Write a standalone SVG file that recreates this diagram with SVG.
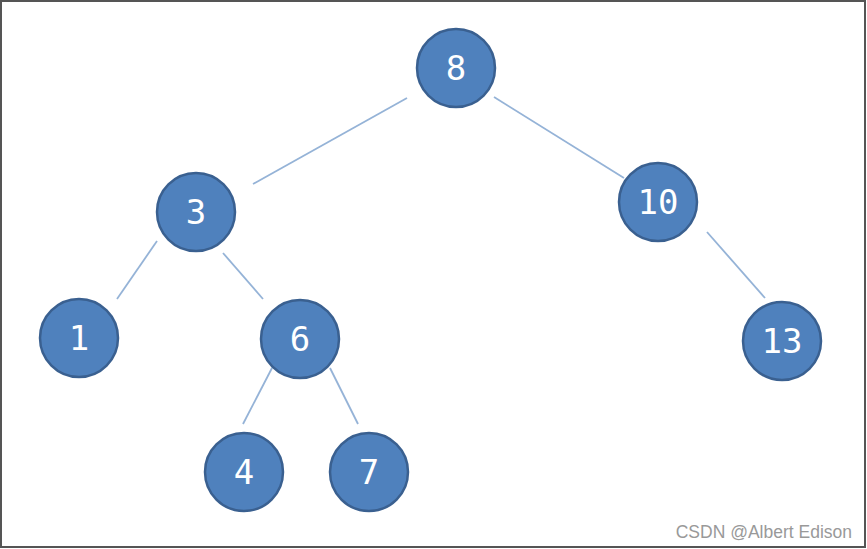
<svg xmlns="http://www.w3.org/2000/svg" width="867" height="549" viewBox="0 0 867 549">
<style>
.n circle{fill:#4F81BD;stroke:#3A6090;stroke-width:2.5}
.n text{fill:#fff;font-family:"DejaVu Sans Mono",monospace;font-size:34px;text-anchor:middle;dominant-baseline:central}
#edges line{stroke:#95B3D7;stroke-width:1.8}
</style>
<rect x="1" y="1" width="864" height="546" fill="#fff" stroke="#555" stroke-width="2"/>
<g id="edges">
<line x1="407" y1="98" x2="253" y2="184"/>
<line x1="494" y1="97" x2="624" y2="178"/>
<line x1="157" y1="241" x2="117" y2="299"/>
<line x1="223" y1="253" x2="263" y2="299"/>
<line x1="707" y1="232" x2="765" y2="298"/>
<line x1="272" y1="368" x2="243" y2="424"/>
<line x1="330" y1="368" x2="358" y2="424"/>
</g>
<g id="n8" class="n"><circle cx="456" cy="68" r="39"/><text x="456" y="68">8</text></g>
<g id="n3" class="n"><circle cx="196" cy="212" r="39"/><text x="196" y="212">3</text></g>
<g id="n10" class="n"><circle cx="658" cy="202" r="39"/><text x="658" y="202">10</text></g>
<g id="n1" class="n"><circle cx="79" cy="338" r="39"/><text x="79" y="338">1</text></g>
<g id="n6" class="n"><circle cx="300" cy="339" r="39"/><text x="300" y="339">6</text></g>
<g id="n13" class="n"><circle cx="782" cy="341" r="39"/><text x="782" y="341">13</text></g>
<g id="n4" class="n"><circle cx="244" cy="472" r="39"/><text x="244" y="472">4</text></g>
<g id="n7" class="n"><circle cx="369" cy="472" r="39"/><text x="369" y="472">7</text></g>
<text x="852" y="538" text-anchor="end" font-family="Liberation Sans,Arial,sans-serif" font-size="17.5" fill="#999">CSDN @Albert Edison</text>
</svg>
